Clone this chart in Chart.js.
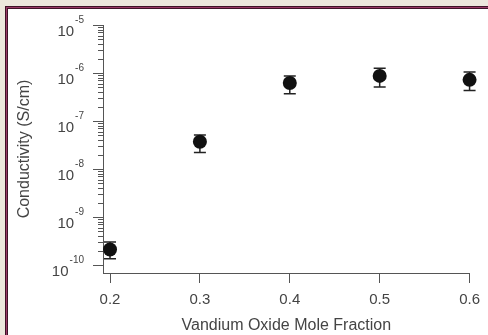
<!DOCTYPE html>
<html>
<head>
<meta charset="utf-8">
<script src="https://cdn.jsdelivr.net/npm/chart.js@4.4.1/dist/chart.umd.min.js"></script>
<style>
  html, body { margin: 0; padding: 0; overflow: hidden; }
  body { width: 488px; height: 335px; background: #ece8dd; position: relative; }
  .frame {
    position: absolute; left: 5px; top: 6px; width: 520px; height: 380px;
    background: #fff;
    border-left: 1px solid #3f1428; border-top: 1px solid #3f1428;
    box-shadow: inset 1px 1px 0 #9a3a68, inset 2px 2px 0 #3f1428;
  }
  .wrap { position: absolute; left: 0; top: 0; width: 488px; height: 335px; }
</style>
</head>
<body>
<div class="frame"></div>
<div class="wrap"><canvas id="chart"></canvas></div>
<script>
// Data
const moleFraction = [0.2, 0.3, 0.4, 0.5, 0.6];
const conductivity = [2.1e-10, 3.7e-8, 6.2e-7, 8.7e-7, 7.2e-7];
const errLow = [1.35e-10, 2.2e-8, 3.7e-7, 5.1e-7, 4.3e-7];
const errHigh = [3.0e-10, 5.1e-8, 8.7e-7, 1.26e-6, 1.05e-6];

// Ticks
const xTicks = [0.2, 0.3, 0.4, 0.5, 0.6];
const yDecades = [-10, -9, -8, -7, -6, -5];
const yMinor = [2, 3, 4, 5, 6, 7, 8, 9];

const axisColor = '#555';
const textColor = '#444';
const fontFamily = '"Liberation Sans", Arial, sans-serif';

// Error bars with caps
const errorBars = {
    id: 'errorBars',
    beforeDatasetsDraw(chart) {
        const { ctx, scales: { x, y } } = chart;
        ctx.save();
        ctx.strokeStyle = '#222';
        ctx.lineWidth = 1.5;
        moleFraction.forEach((mf, i) => {
            const px = x.getPixelForValue(mf);
            const top = y.getPixelForValue(errHigh[i]);
            const bot = y.getPixelForValue(errLow[i]);
            ctx.beginPath();
            ctx.moveTo(px, top); ctx.lineTo(px, bot);
            ctx.moveTo(px - 6, top); ctx.lineTo(px + 6, top);
            ctx.moveTo(px - 6, bot); ctx.lineTo(px + 6, bot);
            ctx.stroke();
        });
        ctx.restore();
    }
};

// Log axis ticks and 10^n labels
const logAxis = {
    id: 'logAxis',
    afterDraw(chart) {
        const { ctx, scales: { y } } = chart;
        const left = chart.chartArea.left;
        ctx.save();
        ctx.strokeStyle = axisColor;
        ctx.lineWidth = 1;
        yDecades.forEach((e, idx) => {
            const py = Math.round(y.getPixelForValue(Math.pow(10, e))) + 0.5;
            ctx.beginPath();
            ctx.moveTo(left - 10, py); ctx.lineTo(left, py);
            ctx.stroke();
            if (idx < yDecades.length - 1) {
                yMinor.forEach(m => {
                    const my = Math.round(y.getPixelForValue(m * Math.pow(10, e))) + 0.5;
                    ctx.beginPath();
                    ctx.moveTo(left - 5, my); ctx.lineTo(left, my);
                    ctx.stroke();
                });
            }
            // label
            ctx.fillStyle = textColor;
            ctx.textBaseline = 'alphabetic';
            ctx.textAlign = 'right';
            ctx.font = '10px ' + fontFamily;
            const expText = String(e);
            const expRight = 84;
            ctx.fillText(expText, expRight, py - 3);
            const expW = ctx.measureText(expText).width;
            ctx.font = '15px ' + fontFamily;
            ctx.fillText('10', expRight - expW - 1, py + 10);
        });
        ctx.restore();
    }
};

new Chart(document.getElementById('chart'), {
    type: 'scatter',
    data: {
        datasets: [{
            data: moleFraction.map((mf, i) => ({ x: mf, y: conductivity[i] })),
            backgroundColor: '#111',
            borderColor: '#111',
            borderWidth: 0,
            pointRadius: 7,
            pointHoverRadius: 7,
            clip: false
        }]
    },
    options: {
        responsive: true,
        maintainAspectRatio: false,
        animation: false,
        events: [],
        layout: { padding: { top: 25, right: 17, left: 0, bottom: 0 } },
        plugins: { legend: { display: false }, tooltip: { enabled: false } },
        scales: {
            x: {
                type: 'linear',
                min: 0.1922,
                max: 0.6,
                afterBuildTicks: s => { s.ticks = xTicks.map(v => ({ value: v })); },
                afterFit: s => { s.height = 62; },
                grid: { drawOnChartArea: false, drawTicks: true, tickLength: 10, color: axisColor, lineWidth: 1 },
                border: { display: true, color: axisColor, width: 1 },
                ticks: {
                    color: textColor, padding: 8, maxRotation: 0,
                    font: { family: fontFamily, size: 15 },
                    callback: v => v.toFixed(1)
                },
                title: {
                    display: true, text: 'Vandium Oxide Mole Fraction', color: textColor,
                    font: { family: fontFamily, size: 16 }, padding: { top: 8, bottom: 0 }
                }
            },
            y: {
                type: 'logarithmic',
                min: 6.8e-11,
                max: 1e-5,
                afterFit: s => { s.width = 103; },
                grid: { display: false },
                border: { display: true, color: axisColor, width: 1 },
                ticks: { display: false },
                title: {
                    display: true, text: 'Conductivity (S/cm)', color: textColor,
                    font: { family: fontFamily, size: 16 }, padding: { top: 15, bottom: 0 }
                }
            }
        }
    },
    plugins: [errorBars, logAxis]
});
</script>
</body>
</html>
